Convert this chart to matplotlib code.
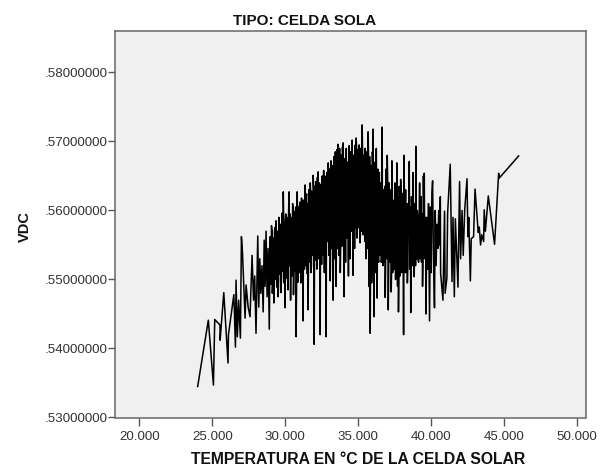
import matplotlib
matplotlib.use("Agg")
import matplotlib.pyplot as plt

TITLE = "TIPO: CELDA SOLA"
X_LABEL = "TEMPERATURA EN °C DE LA CELDA SOLAR"
Y_LABEL = "VDC"

x_ticks = [20, 25, 30, 35, 40, 45, 50]
x_tick_labels = ["20.000", "25.000", "30.000", "35.000", "40.000", "45.000", "50.000"]
y_ticks = [.53, .54, .55, .56, .57, .58]
y_tick_labels = [".53000000", ".54000000", ".55000000", ".56000000", ".57000000", ".58000000"]

# values, left to right
temperatura = [
    23.99, 24.72, 25.07, 25.16, 25.52, 25.53, 25.78, 26.07, 26.10, 26.47,
    26.58, 26.62, 26.71, 26.80, 26.92, 26.99, 27.06, 27.24, 27.31, 27.45,
    27.58, 27.72, 27.82, 27.90, 27.99, 28.11, 28.18, 28.25, 28.32, 28.40,
    28.48, 28.55, 28.61, 28.68, 28.75, 28.82,
    28.90, 28.96, 29.01, 29.05, 29.11, 29.15, 29.21, 29.26, 29.30, 29.36,
    29.41, 29.45, 29.51, 29.56, 29.60, 29.66, 29.70, 29.76, 29.80, 29.86,
    29.91, 29.95, 29.98, 30.03, 30.09, 30.13, 30.19, 30.23, 30.26, 30.36,
    30.41, 30.46, 30.50, 30.56, 30.61, 30.66, 30.70, 30.74, 30.81, 30.86,
    30.91, 30.96, 31.01, 31.06, 31.11, 31.16, 31.22, 31.27, 31.31, 31.36,
    31.41, 31.46, 31.51, 31.56, 31.61, 31.66, 31.71, 31.76, 31.81, 31.86,
    31.91, 31.98, 32.02, 32.07, 32.11, 32.16, 32.20, 32.25, 32.30, 32.35,
    32.39, 32.44, 32.49, 32.53, 32.58, 32.63, 32.68, 32.73, 32.80, 32.85,
    32.94, 32.98, 33.03, 33.08, 33.13, 33.18, 33.23, 33.28, 33.33, 33.38,
    33.43, 33.48, 33.53, 33.58, 33.62, 33.67, 33.72, 33.77, 33.82, 33.87,
    33.92, 33.97, 34.03, 34.08, 34.13, 34.18, 34.23, 34.28, 34.33, 34.38,
    34.43, 34.48, 34.53, 34.58, 34.65, 34.70, 34.75, 34.80, 34.86, 34.91,
    34.96, 35.01, 35.06, 35.13, 35.18, 35.22, 35.27, 35.32, 35.37, 35.42,
    35.47, 35.54, 35.59, 35.64, 35.68, 35.73, 35.78, 35.82, 35.87, 35.92,
    35.97, 36.02, 36.09, 36.14, 36.19, 36.24, 36.30, 36.35, 36.40, 36.45,
    36.50, 36.55, 36.60, 36.64, 36.69, 36.74, 36.79, 36.85, 36.90, 36.94,
    36.99, 37.06, 37.11, 37.16, 37.21, 37.26, 37.31, 37.36, 37.41, 37.46,
    37.51, 37.56, 37.60, 37.65, 37.70, 37.76, 37.81, 37.86, 37.91, 37.96,
    38.01, 38.06, 38.11, 38.15, 38.20, 38.25, 38.30, 38.37, 38.43, 38.50,
    38.55, 38.60, 38.65, 38.70, 38.75, 38.80, 38.84, 38.90, 38.95, 39.00,
    39.05, 39.11, 39.16, 39.21, 39.26, 39.31, 39.36, 39.41, 39.47, 39.53,
    39.58, 39.65, 39.70, 39.76, 39.82, 39.89, 39.95, 40.00, 40.05, 40.10,
    40.16, 40.23, 40.28, 40.34, 40.40, 40.46, 40.52, 40.58, 40.63, 40.65,
    40.81, 40.92, 40.96, 41.08, 41.13, 41.31, 41.43, 41.50, 41.59, 41.66,
    41.84, 41.95, 42.02, 42.12, 42.20, 42.30, 42.46, 42.52, 42.58, 42.69,
    42.75, 42.91, 43.01, 43.23, 43.30, 43.39, 43.47, 43.60, 43.64, 43.72,
    43.92, 44.35, 44.63, 44.67, 46.00,
]
vdc = [
    .5345, .5441, .5347, .5442, .5434, .5412, .5481, .5379, .5420, .5478,
    .5402, .5499, .5417, .5470, .5415, .5562, .5540, .5444, .5492, .5460,
    .5446, .5535, .5470, .5505, .5422, .5563, .5460, .5530, .5480, .5520,
    .5453, .5557, .5490, .5570, .5475, .5545,
    .5428, .5562, .5493, .5578, .5480, .5551, .5466, .5569, .5502, .5585,
    .5489, .5563, .5475, .5590, .5508, .5572, .5481, .5596, .5512, .5627,
    .5495, .5580, .5459, .5595, .5502, .5578, .5485, .5605, .5627, .5470,
    .5590, .5505, .5610, .5478, .5598, .5512, .5604, .5417, .5627, .5496,
    .5605, .5520, .5612, .5495, .5618, .5528, .5440, .5610, .5515, .5637,
    .5530, .5624, .5508, .5456, .5630, .5525, .5640, .5510, .5628, .5535,
    .5651, .5406, .5635, .5528, .5642, .5515, .5648, .5656, .5530, .5625,
    .5420, .5638, .5522, .5650, .5540, .5658, .5510, .5645, .5417, .5655,
    .5669, .5535, .5660, .5498, .5672, .5545, .5665, .5470, .5678, .5530,
    .5685, .5490, .5688, .5545, .5696, .5535, .5690, .5510, .5680, .5548,
    .5692, .5698, .5475, .5672, .5525, .5690, .5560, .5660, .5505, .5694,
    .5530, .5685, .5570, .5702, .5506, .5680, .5545, .5695, .5705, .5560,
    .5688, .5575, .5695, .5553, .5690, .5600, .5724, .5565, .5680, .5590,
    .5690, .5530, .5685, .5575, .5714, .5490, .5678, .5422, .5660, .5495,
    .5685, .5718, .5446, .5670, .5510, .5690, .5473, .5660, .5525, .5655,
    .5560, .5640, .5530, .5721, .5520, .5630, .5545, .5474, .5660, .5540,
    .5680, .5456, .5640, .5535, .5625, .5482, .5672, .5510, .5610, .5520,
    .5640, .5500, .5620, .5669, .5490, .5453, .5635, .5505, .5645, .5520,
    .5625, .5515, .5420, .5680, .5510, .5630, .5525, .5495, .5610, .5671,
    .5520, .5452, .5620, .5530, .5655, .5535, .5504, .5610, .5693, .5530,
    .5600, .5530, .5555, .5640, .5530, .5620, .5540, .5490, .5650, .5654,
    .5560, .5450, .5590, .5515, .5610, .5440, .5605, .5510, .5625, .5643,
    .5530, .5459, .5600, .5520, .5580, .5545, .5600, .5550, .5620, .5509,
    .5470, .5599, .5480, .5502, .5596, .5667, .5497, .5590, .5475, .5588,
    .5489, .5642, .5530, .5600, .5535, .5600, .5646, .5562, .5590, .5498,
    .5559, .5562, .5631, .5568, .5576, .5550, .5565, .5555, .5601, .5570,
    .5621, .5551, .5654, .5647, .5679,
]

# more readings inside the solid black band, merged in by temperature below
temperatura_banda = [
    29.03, 29.09, 29.13, 29.19, 29.24, 29.28, 29.34, 29.39, 29.43, 29.49,
    29.54, 29.58, 29.64, 29.68, 29.74, 29.78, 29.84, 29.89, 29.93, 29.99,
    30.05, 30.11, 30.15, 30.21, 30.28, 30.33, 30.38, 30.43, 30.48, 30.54,
    30.59, 30.64, 30.68, 30.72, 30.78, 30.84, 30.88, 30.94, 30.99, 31.04,
    31.09, 31.14, 31.19, 31.25, 31.29, 31.34, 31.39, 31.44, 31.49, 31.54,
    31.59, 31.64, 31.69, 31.74, 31.79, 31.84, 31.89, 31.95, 32.00, 32.05,
    32.09, 32.14, 32.18, 32.23, 32.28, 32.33, 32.37, 32.42, 32.47, 32.51,
    32.56, 32.61, 32.66, 32.71, 32.76, 32.83, 32.90, 32.96, 33.01, 33.06,
    33.11, 33.16, 33.21, 33.26, 33.31, 33.36, 33.41, 33.46, 33.51, 33.56,
    33.60, 33.65, 33.70, 33.75, 33.80, 33.85, 33.90, 33.95, 34.00, 34.06,
    34.11, 34.16, 34.21, 34.26, 34.31, 34.36, 34.41, 34.46, 34.51, 34.56,
    34.62, 34.68, 34.73, 34.78, 34.83, 34.89, 34.94, 34.99, 35.04, 35.10,
    35.16, 35.20, 35.25, 35.30, 35.35, 35.40, 35.45, 35.50, 35.57, 35.62,
    35.66, 35.71, 35.76, 35.80, 35.85, 35.90, 35.95, 36.00, 36.06, 36.12,
    36.17, 36.22, 36.27, 36.33, 36.38, 36.43, 36.48, 36.53, 36.58, 36.62,
    36.67, 36.72, 36.77, 36.82, 36.88, 36.92, 36.97, 37.03, 37.09, 37.14,
    37.19, 37.24, 37.29, 37.34, 37.39, 37.44, 37.49, 37.54, 37.58, 37.63,
    37.68, 37.73, 37.79, 37.84, 37.89, 37.94, 37.99, 38.04, 38.09, 38.13,
    38.18, 38.23, 38.28, 38.34, 38.40, 38.47, 38.53, 38.58, 38.63, 38.68,
    38.73, 38.78, 38.82, 38.87, 38.93, 38.98, 39.03, 39.08, 39.14, 39.19,
    39.24, 39.29, 39.34, 39.39, 39.44, 39.50, 39.56, 39.62, 39.68, 39.73,
]
vdc_banda = [
    .5505, .5570, .5490, .5560, .5515, .5575, .5500, .5565, .5510, .5570,
    .5500, .5575, .5520, .5580, .5505, .5570, .5515, .5585, .5495, .5580,
    .5515, .5590, .5505, .5580, .5520, .5595, .5510, .5585, .5525, .5600,
    .5515, .5590, .5530, .5605, .5510, .5595, .5525, .5600, .5510, .5610,
    .5525, .5605, .5515, .5615, .5530, .5600, .5520, .5620, .5530, .5610,
    .5525, .5615, .5535, .5625, .5520, .5610, .5535, .5630, .5525, .5620,
    .5540, .5635, .5530, .5625, .5545, .5640, .5530, .5630, .5550, .5645,
    .5535, .5635, .5550, .5650, .5540, .5640, .5555, .5655, .5540, .5645,
    .5555, .5660, .5545, .5650, .5560, .5665, .5550, .5655, .5565, .5670,
    .5555, .5675, .5565, .5665, .5555, .5680, .5570, .5670, .5560, .5675,
    .5570, .5680, .5565, .5670, .5575, .5685, .5570, .5675, .5580, .5685,
    .5570, .5680, .5585, .5670, .5575, .5690, .5585, .5675, .5580, .5685,
    .5580, .5675, .5570, .5680, .5565, .5670, .5555, .5675, .5550, .5660,
    .5545, .5670, .5540, .5655, .5535, .5665, .5530, .5650, .5530, .5660,
    .5530, .5650, .5535, .5640, .5530, .5645, .5535, .5630, .5525, .5640,
    .5530, .5625, .5525, .5635, .5520, .5625, .5530, .5630, .5520, .5620,
    .5525, .5630, .5515, .5620, .5525, .5615, .5515, .5625, .5520, .5610,
    .5515, .5620, .5510, .5615, .5520, .5605, .5510, .5615, .5515, .5610,
    .5515, .5605, .5510, .5610, .5520, .5600, .5515, .5605, .5525, .5600,
    .5520, .5605, .5525, .5595, .5520, .5600, .5530, .5590, .5525, .5595,
    .5530, .5590, .5525, .5595, .5535, .5585, .5530, .5590, .5535, .5585,
]

puntos = sorted(zip(temperatura + temperatura_banda, vdc + vdc_banda))

fig = plt.figure(figsize=(6.05, 4.68), dpi=100, facecolor="white")
ax = fig.add_axes([115 / 605, 1 - 417.5 / 468, 471 / 605, 386.5 / 468])
ax.set_facecolor("#f0f0f0")

ax.plot([p[0] for p in puntos], [p[1] for p in puntos], color="black", lw=1.1)

ax.set_xlim(18.32, 50.62)
ax.set_ylim(.53, .58601)

font = ["Liberation Sans", "DejaVu Sans"]
ax.set_xticks(x_ticks)
ax.set_xticklabels(x_tick_labels, family=font, fontsize=9.6, color="#333333")
ax.set_yticks(y_ticks)
ax.set_yticklabels(y_tick_labels, family=font, fontsize=9.6, color="#333333")
ax.tick_params(axis="x", length=6, width=1, color="#555555", pad=3.5)
ax.tick_params(axis="y", length=5, width=1, color="#555555", pad=0)
for s in ax.spines.values():
    s.set_color("#666666")
    s.set_linewidth(1.1)

fig.text(305 / 605, 1 - 21 / 468, TITLE, family=font, fontsize=11, fontweight="bold", ha="center", va="center", color="#111111")
fig.text(358 / 605, 1 - 459 / 468, X_LABEL, family=font, fontsize=11.3, fontweight="bold", ha="center", va="center", color="#111111")
fig.text(25 / 605, 1 - 226 / 468, Y_LABEL, family=font, fontsize=10.5, fontweight="bold", rotation=90, ha="center", va="center", color="#111111")

fig.savefig("out.png", dpi=100)
